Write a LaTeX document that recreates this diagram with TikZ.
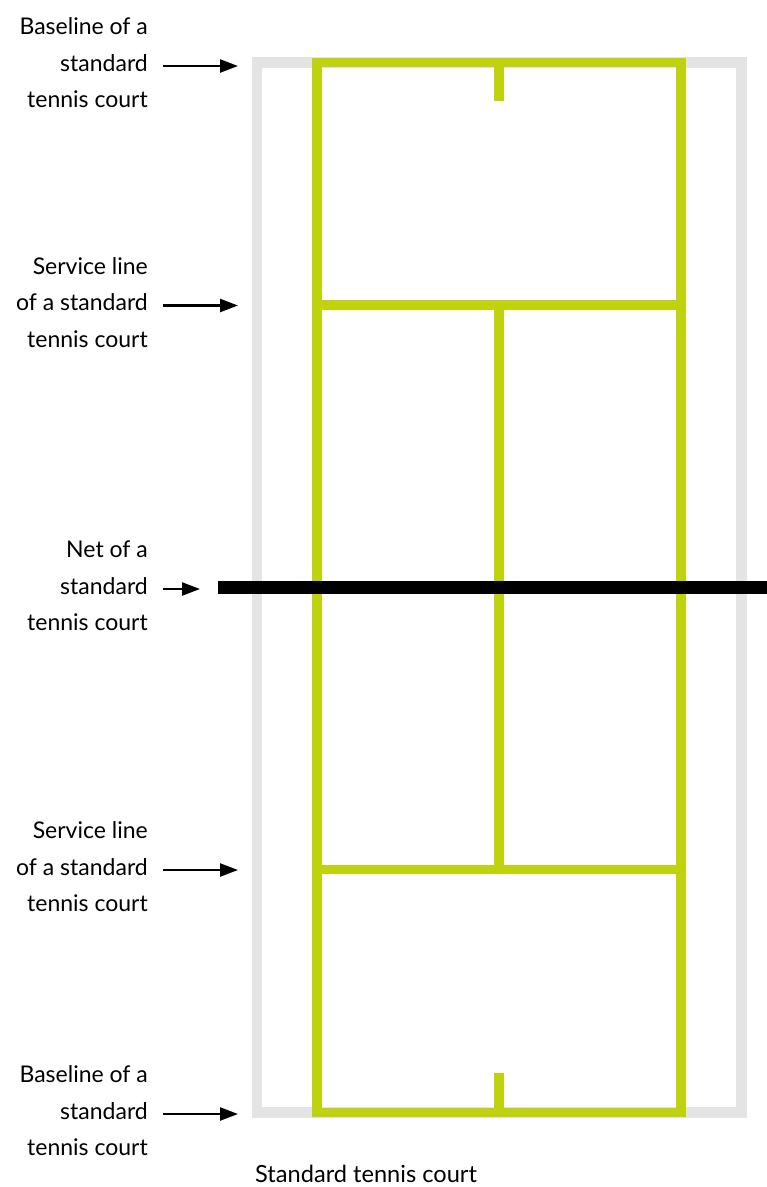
\documentclass[tikz,border=0pt]{standalone}
\usepackage{fontspec}
\setmainfont{Lato}
\usetikzlibrary{arrows.meta}
\definecolor{courtgreen}{RGB}{190,210,14}
\definecolor{courtgray}{RGB}{227,228,227}
\tikzset{
  lbl/.style={anchor=east, align=right, inner sep=0pt, font=\fontsize{23}{36.5}\selectfont},
  ptr/.style={line width=2.4pt, -{Triangle[length=18pt,width=13pt]}},
  outline/.style={draw=courtgray, line width=10.5pt},
  gline/.style={draw=courtgreen, line width=9.5pt},
  netline/.style={draw=black, line width=13.7pt},
}
\begin{document}
\begin{tikzpicture}[x=1pt,y=-1pt]
\useasboundingbox (0,0) rectangle (767,1187);
% outer surround
\draw[outline] (257,62.3) rectangle (741.5,1112.3);
% court lines
\draw[gline] (317,62.3) rectangle (681,1112.3);
\draw[gline] (317,305) -- (681,305);
\draw[gline] (317,869.7) -- (681,869.7);
\draw[gline] (499,305) -- (499,869.7);
\draw[gline] (499,62.3) -- (499,101);
\draw[gline] (499,1073) -- (499,1112.3);
% net
\coordinate (netL) at (218,587.5);
\coordinate (netR) at (767,587.5);
\draw[netline] (netL) -- (netR);
% labels
\node[lbl] (l1) at (148,63) {Baseline of a\\standard\\tennis court};
\node[lbl] (l2) at (148,302.5) {Service line\\of a standard\\tennis court};
\node[lbl] (l3) at (148,586) {Net of a\\standard\\tennis court};
\node[lbl] (l4) at (148,867) {Service line\\of a standard\\tennis court};
\node[lbl] (l5) at (148,1111) {Baseline of a\\standard\\tennis court};
\coordinate (t1) at (238,66);
\coordinate (t2) at (238,305.5);
\coordinate (t3) at (200,589);
\coordinate (t4) at (238,870);
\coordinate (t5) at (238,1114);
\draw[ptr] ([xshift=15pt,yshift=-3pt]l1.east) -- (t1);
\draw[ptr] ([xshift=15pt,yshift=-3pt]l2.east) -- (t2);
\draw[ptr] ([xshift=15pt,yshift=-3pt]l3.east) -- (t3);
\draw[ptr] ([xshift=15pt,yshift=-3pt]l4.east) -- (t4);
\draw[ptr] ([xshift=15pt,yshift=-3pt]l5.east) -- (t5);
\node[anchor=base west, inner sep=0pt, font=\fontsize{23.6}{28}\selectfont] (cap) at (255,1182) {Standard tennis court};
\end{tikzpicture}
\end{document}
